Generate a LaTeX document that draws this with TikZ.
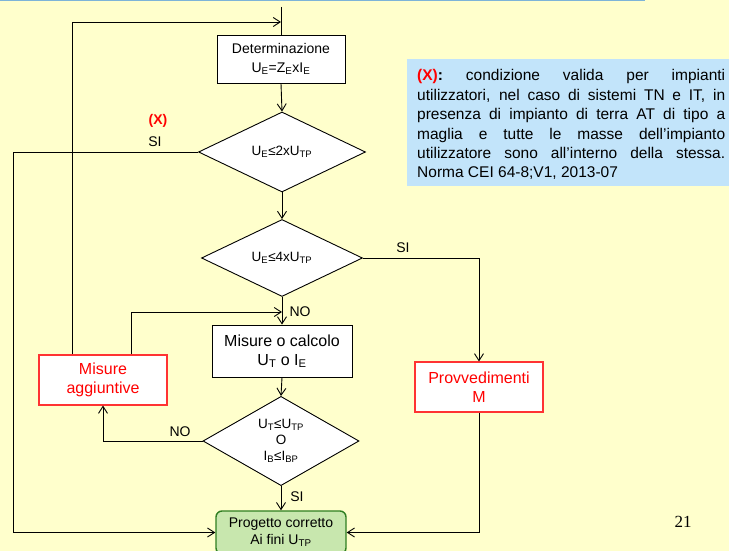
\documentclass[tikz,border=0pt]{standalone}
\usepackage{fontspec}
\setmainfont{Liberation Sans}
\newfontfamily\timesf{Liberation Serif}
\usetikzlibrary{shapes.geometric,arrows.meta}
\definecolor{bg}{HTML}{FFFFCC}
\definecolor{notebg}{HTML}{C2E4FA}
\definecolor{topline}{HTML}{7DB4D8}
\definecolor{gfill}{HTML}{C8E7AE}
\definecolor{gdraw}{HTML}{2F7F22}
\definecolor{myred}{HTML}{FF0000}
\newcommand\sbs[1]{\textsubscript{#1}}
\begin{document}
\begin{tikzpicture}[x=1pt,y=-1pt,
  arr/.style={-{Straight Barb[length=7pt,width=9pt]}, line width=0.9pt},
  ln/.style={line width=0.9pt},
  box/.style={draw, line width=0.9pt, fill=white, align=center, inner sep=0pt},
  dia/.style={diamond, draw, line width=0.9pt, fill=white, align=center, inner sep=0pt, font=\fontsize{13.5}{16}\selectfont},
  redbox/.style={box, draw=red!80, line width=1.1pt, text=myred, font=\fontsize{16}{19}\selectfont},
  lbl/.style={font=\fontsize{14}{16}\selectfont, inner sep=0pt}
]
\clip (0,0) rectangle (729,551);
\fill[bg] (0,0) rectangle (729,551);
\draw[topline, line width=1.4pt] (0,0.7) -- (645,0.7);

% note box
\node (notebox) [fill=notebg, minimum width=322pt, minimum height=127pt, anchor=north west, inner sep=0pt] at (407,59) {};
\node (notetext) [anchor=north west, inner sep=0pt, text width=308pt, align=justify, font=\fontsize{15.5}{19.4}\selectfont] at (417,69.5)
{{\bfseries\color{myred}(X)}\textbf{:} condizione valida per impianti\linebreak
utilizzatori, nel caso di sistemi TN e IT, in\linebreak
presenza di impianto di terra AT di tipo a\linebreak
maglia e tutte le masse dell’impianto\linebreak
utilizzatore sono all’interno della stessa.\linebreak
Norma CEI 64-8;V1, 2013-07};

% nodes
\node (det) [box, minimum width=128pt, minimum height=48pt, font=\fontsize{14}{19}\selectfont] at (281,59) {Determinazione\\U\sbs{E}=Z\sbs{E}xI\sbs{E}};
\node (d1) [dia, minimum width=167pt, minimum height=80pt] at (282,152) {U\sbs{E}≤2xU\sbs{TP}};
\node (d2) [dia, minimum width=161pt, minimum height=77pt] at (282,258) {U\sbs{E}≤4xU\sbs{TP}};
\node (mc) [box, minimum width=140pt, minimum height=52pt, font=\fontsize{16}{19}\selectfont] at (282,351) {Misure o calcolo\\U\sbs{T} o I\sbs{E}};
\node (ma) [redbox, minimum width=128pt, minimum height=50pt] at (103,380) {Misure\\aggiuntive};
\node (pm) [redbox, minimum width=128pt, minimum height=50pt] at (479,387) {Provvedimenti\\M};
\node (d3) [dia, minimum width=156pt, minimum height=82pt] at (281,441) {U\sbs{T}≤U\sbs{TP}\\O\\I\sbs{B}≤I\sbs{BP}};
\node (pc) [box, fill=gfill, draw=gdraw, line width=1.4pt, rounded corners=6pt, minimum width=130pt, minimum height=43pt, font=\fontsize{14}{17}\selectfont] at (281,532.5) {Progetto corretto\\Ai fini U\sbs{TP}};

\node (pg) at (683,522) {\timesf\fontsize{17}{20}\selectfont 21};

% coordinates
\coordinate (top) at (281,7);
\coordinate (j1) at (281,22);
\coordinate (c1) at (72,22);
\coordinate (xL) at (13,0);
\coordinate (c2) at (131,0);
\coordinate (j2) at (282,312);

% connectors
\draw[ln] (top) -- (det.north);
\draw[arr] (ma.north -| c1) -- (c1) -- (j1);
\draw[arr] (det.south) -- (d1.north);
\draw[arr] (d1.west) -- (d1.west -| xL) |- (pc.west);
\draw[arr] (d1.south) -- (d2.north);
\draw[arr] (d2.east) -| (pm.north);
\draw[arr] (d2.south) -- (mc.north);
\draw[arr] (ma.north -| c2) |- (j2);
\draw[arr] (mc.south) -- (d3.north);
\draw[arr] (d3.west) -| (ma.south);
\draw[arr] (d3.south) -- (pc.north);
\draw[arr] (pm.south) |- (pc.east);

% labels
\node (xl) [lbl, text=myred, font=\bfseries\fontsize{14}{16}\selectfont] at (158,121) {(X)};
\node (si1) [lbl] at (155,142) {SI};
\node (si2) [lbl] at (403,248) {SI};
\node (no1) [lbl] at (300,312) {NO};
\node (no2) [lbl] at (180,432) {NO};
\node (si3) [lbl] at (297,497) {SI};
\end{tikzpicture}
\end{document}
